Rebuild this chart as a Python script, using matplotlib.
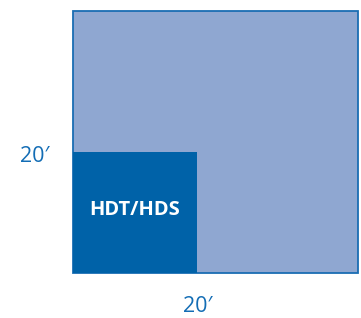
import matplotlib
matplotlib.use("Agg")
import matplotlib.pyplot as plt
from matplotlib.patches import Rectangle

# Data (feet)
outer_size = [20, 20]          # width, height of whole area
inner_size = [8.7, 9.2]        # HDT/HDS block
inner_label = "HDT/HDS"
width_label = "20\u2032"
height_label = "20\u2032"

light = "#8fa7d1"
dark = "#0062a8"
edge = "#1a6db3"
txt = "#136db5"

fig = plt.figure(figsize=(3.61, 3.18), dpi=100)
ax = fig.add_axes([73/361, 45/318, 285/361, 262/318])
ax.set_xlim(0, outer_size[0])
ax.set_ylim(0, outer_size[1])
ax.axis("off")

ax.add_patch(Rectangle((0, 0), outer_size[0], outer_size[1], facecolor=light,
                       edgecolor=edge, linewidth=1.3, clip_on=False))
ax.add_patch(Rectangle((0, 0), inner_size[0], inner_size[1], facecolor=dark,
                       edgecolor="none", zorder=3))
ax.text(inner_size[0] / 2, inner_size[1] / 2 + 0.2, inner_label, color="white",
        fontsize=14.5, fontweight="bold", ha="center", va="center",
        family=["Open Sans", "DejaVu Sans"], zorder=4)

fig.text(35/361, 1 - 157/318, height_label, color=txt, fontsize=15.5,
         ha="center", va="center", family=["Open Sans", "DejaVu Sans"])
fig.text(198/361, 1 - 307/318, width_label, color=txt, fontsize=15.5,
         ha="center", va="center", family=["Open Sans", "DejaVu Sans"])

fig.savefig("out.png", dpi=100, facecolor="white")
